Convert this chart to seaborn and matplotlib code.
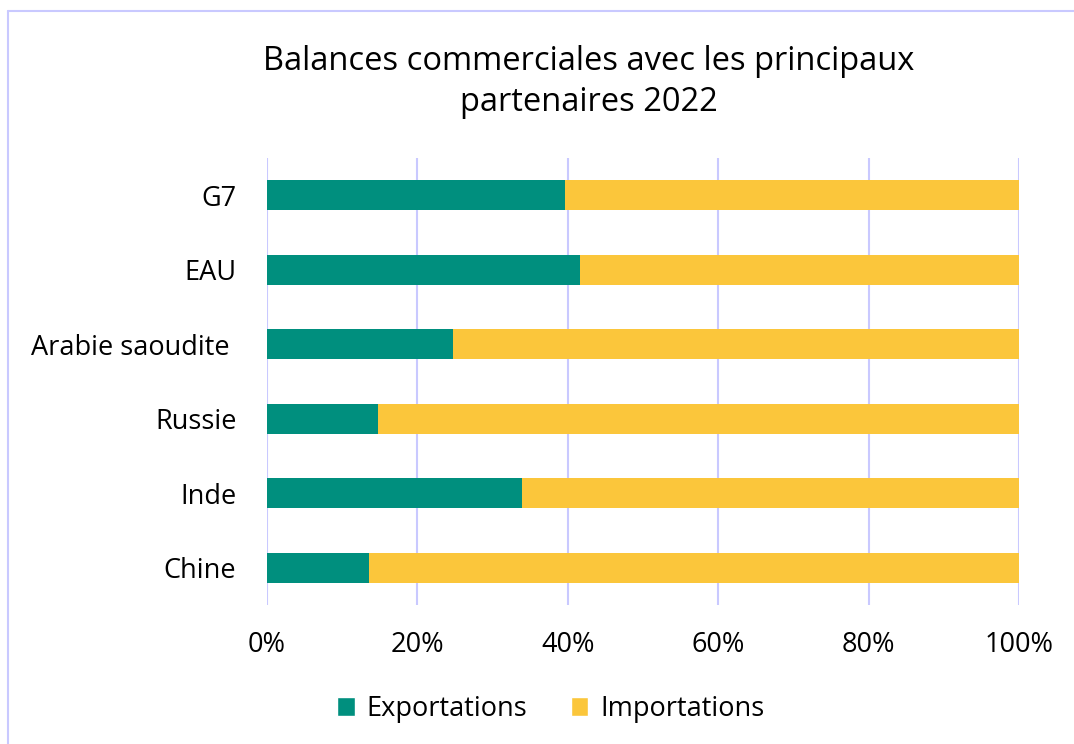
import numpy as np
import pandas as pd
import matplotlib.pyplot as plt
import seaborn as sns
from matplotlib.patches import Patch
from matplotlib.lines import Line2D

# Partners and share of exports in total trade (%)
partners = ['G7', 'EAU', 'Arabie saoudite ', 'Russie', 'Inde', 'Chine']
exports_pct = [39.6, 41.6, 24.7, 14.8, 33.9, 13.6]
imports_pct = [100 - v for v in exports_pct]

teal = '#008F7E'
yellow = '#FBC63B'
grid_col = '#C9C9FF'

df = pd.DataFrame({'partner': partners,
                   'exports': exports_pct,
                   'total': [e + i for e, i in zip(exports_pct, imports_pct)]})

sns.set_theme(style='white')
plt.rcParams['font.family'] = ['Open Sans', 'DejaVu Sans']
plt.rcParams['text.color'] = 'black'
plt.rcParams['xtick.color'] = 'black'
plt.rcParams['ytick.color'] = 'black'

fig = plt.figure(figsize=(10.74, 7.44), dpi=100)
ax = fig.add_axes([267 / 1074, 1 - 605 / 744, (1019 - 267) / 1074, (605 - 158) / 744])

# stacked bars: total first (imports colour), exports on top
sns.barplot(data=df, x='total', y='partner', orient='h', color=yellow,
            width=0.4, saturation=1, linewidth=0, ax=ax, zorder=2)
sns.barplot(data=df, x='exports', y='partner', orient='h', color=teal,
            width=0.4, saturation=1, linewidth=0, ax=ax, zorder=3)

ax.set_xlim(0, 100)
ax.set_ylim(5.5, -0.5)
ax.set_xticks(np.arange(0, 101, 20))
ax.set_xticklabels([f'{v}%' for v in range(0, 101, 20)])
ax.xaxis.grid(True, color=grid_col, linewidth=1.5, zorder=0)
ax.set_axisbelow(True)
for s in ax.spines.values():
    s.set_visible(False)
ax.set_xlabel('')
ax.set_ylabel('')
ax.tick_params(axis='x', labelsize=19.5, pad=19, length=0)
ax.tick_params(axis='y', labelsize=19.5, pad=22, length=0)

fig.text(0.548, 1 - 82 / 744, 'Balances commerciales avec les principaux\npartenaires 2022',
         ha='center', va='center', fontsize=23.5, linespacing=1.3)

handles = [Patch(facecolor=teal, label='Exportations'),
           Patch(facecolor=yellow, label='Importations')]
fig.legend(handles=handles, loc='center', bbox_to_anchor=(0.513, 1 - 709 / 744),
           ncol=2, frameon=False, fontsize=19.5, handlelength=0.65, handleheight=0.65,
           columnspacing=1.6, handletextpad=0.45)

# chart frame lines (top and left)
fig.add_artist(Line2D([8 / 1074, 1], [1 - 11 / 744, 1 - 11 / 744], color=grid_col, lw=1.5))
fig.add_artist(Line2D([8 / 1074, 8 / 1074], [0, 1 - 11 / 744], color=grid_col, lw=1.5))

fig.savefig('out.png', dpi=100, facecolor='white')
